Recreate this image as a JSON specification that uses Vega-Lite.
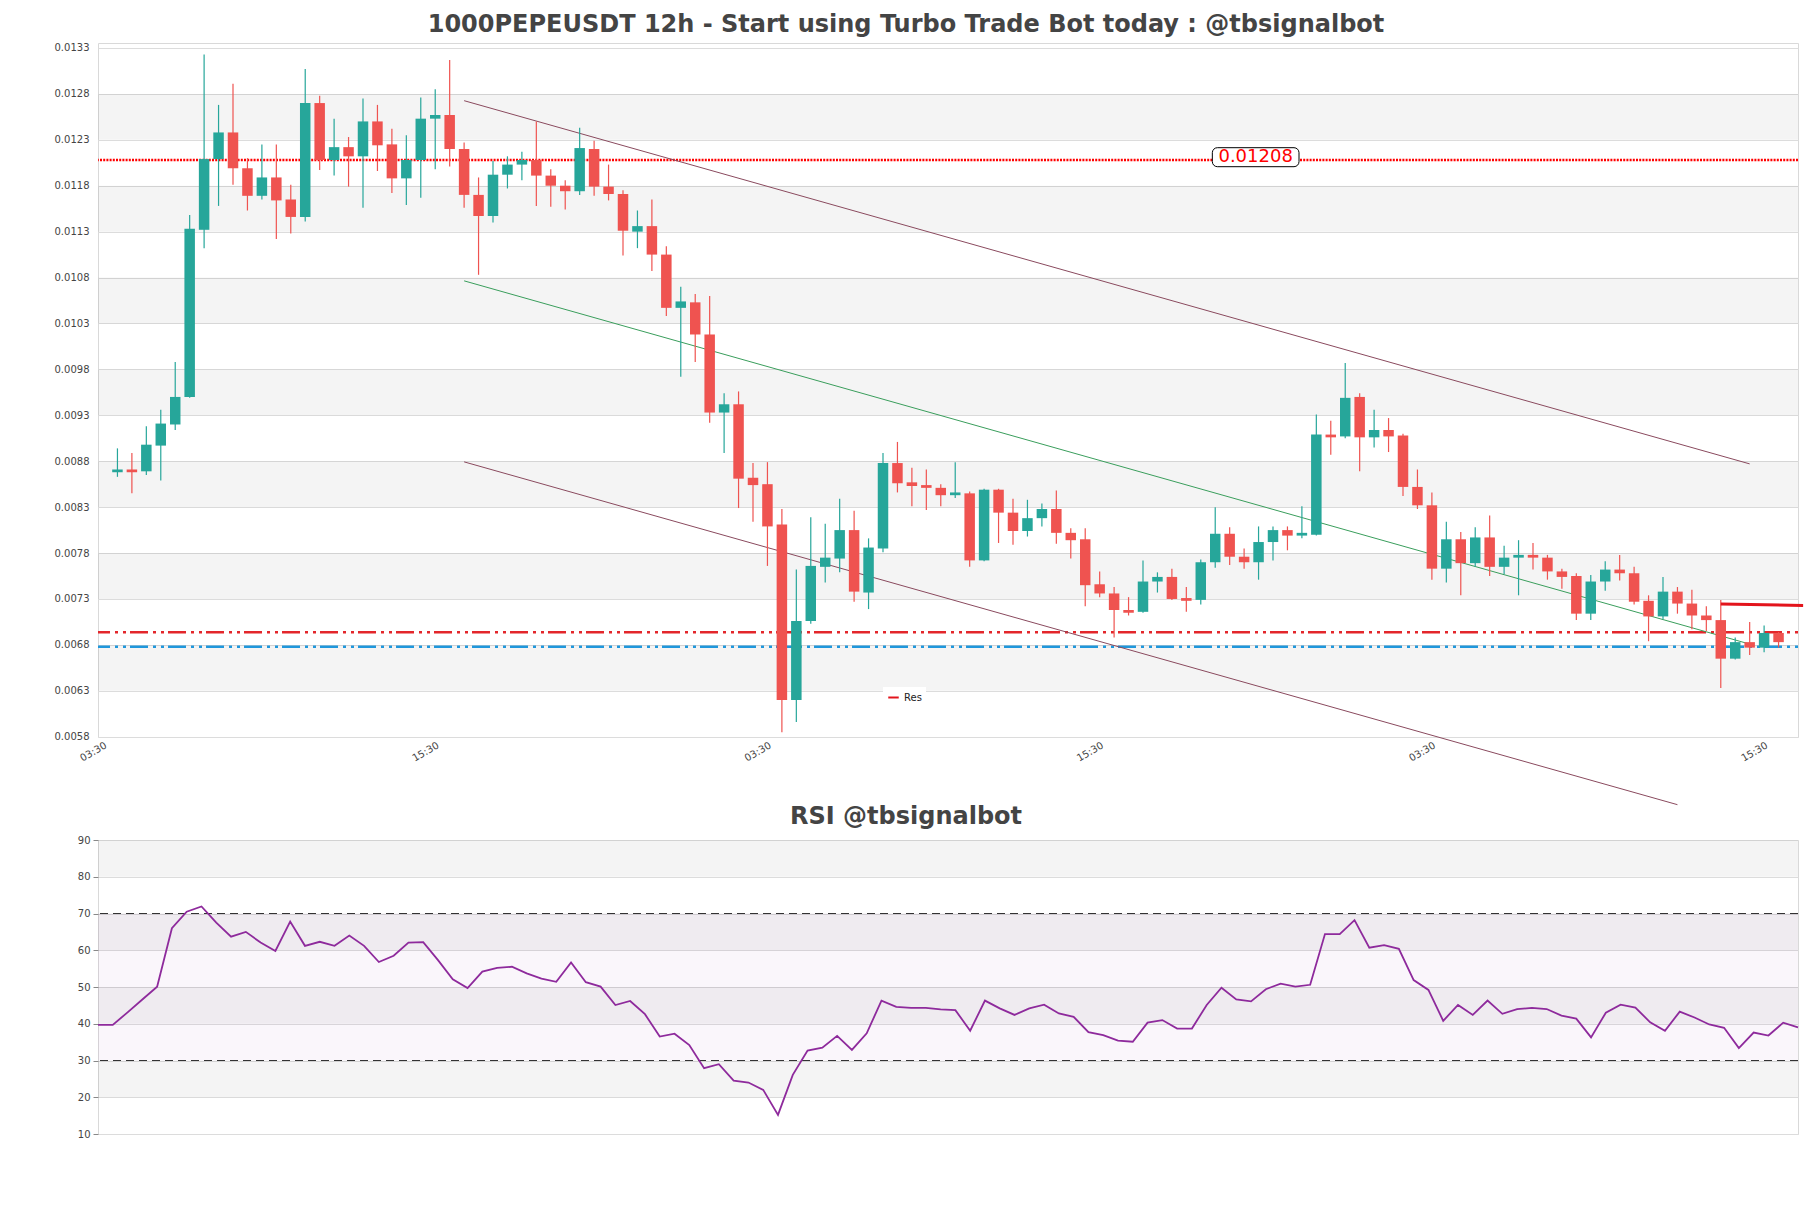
{
  "$schema": "https://vega.github.io/schema/vega-lite/v6.json",
  "autosize": {"type": "pad"},
  "padding": {"left": 53, "top": 12, "right": 4, "bottom": 4},
  "background": "white",
  "bounds": "flush",
  "spacing": 103,
  "config": {
    "font": "DejaVu Sans",
    "view": {"stroke": "#d9d9d9", "strokeWidth": 1},
    "axis": {"labelFont": "DejaVu Sans", "labelFontSize": 10, "labelColor": "#444444", "domain": false}
  },
  "datasets": {
    "candles": [
      {"i":0,"o":0.00868,"h":0.00894,"l":0.00863,"c":0.00871},
      {"i":1,"o":0.00871,"h":0.00889,"l":0.00845,"c":0.00868},
      {"i":2,"o":0.00869,"h":0.00918,"l":0.00865,"c":0.00898},
      {"i":3,"o":0.00897,"h":0.00936,"l":0.00859,"c":0.00921},
      {"i":4,"o":0.00920,"h":0.00988,"l":0.00914,"c":0.00950},
      {"i":5,"o":0.00950,"h":0.01148,"l":0.00949,"c":0.01133},
      {"i":6,"o":0.01132,"h":0.01323,"l":0.01112,"c":0.01209},
      {"i":7,"o":0.01209,"h":0.01268,"l":0.01158,"c":0.01238},
      {"i":8,"o":0.01238,"h":0.01291,"l":0.01181,"c":0.01199},
      {"i":9,"o":0.01199,"h":0.01210,"l":0.01153,"c":0.01169},
      {"i":10,"o":0.01169,"h":0.01225,"l":0.01165,"c":0.01189},
      {"i":11,"o":0.01189,"h":0.01225,"l":0.01122,"c":0.01164},
      {"i":12,"o":0.01165,"h":0.01181,"l":0.01128,"c":0.01146},
      {"i":13,"o":0.01146,"h":0.01307,"l":0.01141,"c":0.01270},
      {"i":14,"o":0.01270,"h":0.01278,"l":0.01197,"c":0.01208},
      {"i":15,"o":0.01208,"h":0.01253,"l":0.01191,"c":0.01222},
      {"i":16,"o":0.01222,"h":0.01233,"l":0.01179,"c":0.01212},
      {"i":17,"o":0.01212,"h":0.01275,"l":0.01156,"c":0.01250},
      {"i":18,"o":0.01250,"h":0.01268,"l":0.01196,"c":0.01224},
      {"i":19,"o":0.01225,"h":0.01242,"l":0.01172,"c":0.01188},
      {"i":20,"o":0.01188,"h":0.01235,"l":0.01159,"c":0.01208},
      {"i":21,"o":0.01208,"h":0.01276,"l":0.01167,"c":0.01253},
      {"i":22,"o":0.01253,"h":0.01285,"l":0.01198,"c":0.01257},
      {"i":23,"o":0.01257,"h":0.01317,"l":0.01201,"c":0.01220},
      {"i":24,"o":0.01220,"h":0.01227,"l":0.01156,"c":0.01170},
      {"i":25,"o":0.01170,"h":0.01189,"l":0.01083,"c":0.01147},
      {"i":26,"o":0.01147,"h":0.01207,"l":0.01140,"c":0.01192},
      {"i":27,"o":0.01192,"h":0.01212,"l":0.01177,"c":0.01203},
      {"i":28,"o":0.01203,"h":0.01217,"l":0.01186,"c":0.01208},
      {"i":29,"o":0.01208,"h":0.01250,"l":0.01158,"c":0.01191},
      {"i":30,"o":0.01191,"h":0.01198,"l":0.01157,"c":0.01180},
      {"i":31,"o":0.01180,"h":0.01186,"l":0.01154,"c":0.01174},
      {"i":32,"o":0.01174,"h":0.01243,"l":0.01170,"c":0.01221},
      {"i":33,"o":0.01220,"h":0.01229,"l":0.01169,"c":0.01179},
      {"i":34,"o":0.01179,"h":0.01203,"l":0.01164,"c":0.01171},
      {"i":35,"o":0.01171,"h":0.01175,"l":0.01104,"c":0.01131},
      {"i":36,"o":0.01130,"h":0.01153,"l":0.01112,"c":0.01136},
      {"i":37,"o":0.01136,"h":0.01165,"l":0.01087,"c":0.01105},
      {"i":38,"o":0.01105,"h":0.01114,"l":0.01038,"c":0.01047},
      {"i":39,"o":0.01047,"h":0.01070,"l":0.00972,"c":0.01054},
      {"i":40,"o":0.01053,"h":0.01062,"l":0.00988,"c":0.01018},
      {"i":41,"o":0.01018,"h":0.01060,"l":0.00922,"c":0.00933},
      {"i":42,"o":0.00933,"h":0.00954,"l":0.00889,"c":0.00942},
      {"i":43,"o":0.00942,"h":0.00956,"l":0.00829,"c":0.00861},
      {"i":44,"o":0.00862,"h":0.00878,"l":0.00814,"c":0.00854},
      {"i":45,"o":0.00855,"h":0.00879,"l":0.00766,"c":0.00809},
      {"i":46,"o":0.00811,"h":0.00828,"l":0.00585,"c":0.00620},
      {"i":47,"o":0.00620,"h":0.00762,"l":0.00596,"c":0.00706},
      {"i":48,"o":0.00706,"h":0.00819,"l":0.00703,"c":0.00766},
      {"i":49,"o":0.00765,"h":0.00812,"l":0.00748,"c":0.00775},
      {"i":50,"o":0.00774,"h":0.00839,"l":0.00759,"c":0.00805},
      {"i":51,"o":0.00805,"h":0.00826,"l":0.00727,"c":0.00738},
      {"i":52,"o":0.00737,"h":0.00796,"l":0.00719,"c":0.00786},
      {"i":53,"o":0.00785,"h":0.00889,"l":0.00781,"c":0.00878},
      {"i":54,"o":0.00878,"h":0.00901,"l":0.00846,"c":0.00856},
      {"i":55,"o":0.00857,"h":0.00873,"l":0.00831,"c":0.00853},
      {"i":56,"o":0.00854,"h":0.00871,"l":0.00827,"c":0.00851},
      {"i":57,"o":0.00851,"h":0.00855,"l":0.00831,"c":0.00843},
      {"i":58,"o":0.00843,"h":0.00879,"l":0.00840,"c":0.00846},
      {"i":59,"o":0.00845,"h":0.00847,"l":0.00765,"c":0.00772},
      {"i":60,"o":0.00772,"h":0.00850,"l":0.00771,"c":0.00849},
      {"i":61,"o":0.00849,"h":0.00850,"l":0.00791,"c":0.00824},
      {"i":62,"o":0.00824,"h":0.00839,"l":0.00789,"c":0.00804},
      {"i":63,"o":0.00804,"h":0.00838,"l":0.00798,"c":0.00818},
      {"i":64,"o":0.00818,"h":0.00834,"l":0.00809,"c":0.00828},
      {"i":65,"o":0.00828,"h":0.00848,"l":0.00790,"c":0.00802},
      {"i":66,"o":0.00802,"h":0.00807,"l":0.00774,"c":0.00794},
      {"i":67,"o":0.00795,"h":0.00807,"l":0.00722,"c":0.00745},
      {"i":68,"o":0.00746,"h":0.00760,"l":0.00732,"c":0.00736},
      {"i":69,"o":0.00736,"h":0.00743,"l":0.00688,"c":0.00718},
      {"i":70,"o":0.00718,"h":0.00732,"l":0.00712,"c":0.00715},
      {"i":71,"o":0.00716,"h":0.00772,"l":0.00715,"c":0.00749},
      {"i":72,"o":0.00749,"h":0.00759,"l":0.00737,"c":0.00754},
      {"i":73,"o":0.00754,"h":0.00763,"l":0.00729,"c":0.00730},
      {"i":74,"o":0.00731,"h":0.00743,"l":0.00716,"c":0.00728},
      {"i":75,"o":0.00729,"h":0.00773,"l":0.00724,"c":0.00770},
      {"i":76,"o":0.00770,"h":0.00830,"l":0.00764,"c":0.00801},
      {"i":77,"o":0.00801,"h":0.00808,"l":0.00767,"c":0.00776},
      {"i":78,"o":0.00776,"h":0.00785,"l":0.00763,"c":0.00770},
      {"i":79,"o":0.00770,"h":0.00809,"l":0.00751,"c":0.00792},
      {"i":80,"o":0.00792,"h":0.00809,"l":0.00772,"c":0.00805},
      {"i":81,"o":0.00805,"h":0.00809,"l":0.00783,"c":0.00799},
      {"i":82,"o":0.00799,"h":0.00831,"l":0.00796,"c":0.00802},
      {"i":83,"o":0.00800,"h":0.00931,"l":0.00799,"c":0.00909},
      {"i":84,"o":0.00909,"h":0.00924,"l":0.00887,"c":0.00906},
      {"i":85,"o":0.00907,"h":0.00987,"l":0.00905,"c":0.00949},
      {"i":86,"o":0.00950,"h":0.00954,"l":0.00869,"c":0.00906},
      {"i":87,"o":0.00906,"h":0.00936,"l":0.00895,"c":0.00914},
      {"i":88,"o":0.00914,"h":0.00927,"l":0.00890,"c":0.00907},
      {"i":89,"o":0.00908,"h":0.00910,"l":0.00842,"c":0.00852},
      {"i":90,"o":0.00852,"h":0.00871,"l":0.00828,"c":0.00832},
      {"i":91,"o":0.00832,"h":0.00846,"l":0.00751,"c":0.00763},
      {"i":92,"o":0.00763,"h":0.00814,"l":0.00748,"c":0.00795},
      {"i":93,"o":0.00795,"h":0.00803,"l":0.00734,"c":0.00769},
      {"i":94,"o":0.00769,"h":0.00808,"l":0.00765,"c":0.00797},
      {"i":95,"o":0.00797,"h":0.00821,"l":0.00755,"c":0.00765},
      {"i":96,"o":0.00765,"h":0.00788,"l":0.00757,"c":0.00775},
      {"i":97,"o":0.00775,"h":0.00794,"l":0.00734,"c":0.00778},
      {"i":98,"o":0.00778,"h":0.00791,"l":0.00762,"c":0.00775},
      {"i":99,"o":0.00775,"h":0.00778,"l":0.00751,"c":0.00760},
      {"i":100,"o":0.00760,"h":0.00763,"l":0.00741,"c":0.00754},
      {"i":101,"o":0.00755,"h":0.00758,"l":0.00707,"c":0.00714},
      {"i":102,"o":0.00714,"h":0.00756,"l":0.00707,"c":0.00749},
      {"i":103,"o":0.00749,"h":0.00771,"l":0.00739,"c":0.00762},
      {"i":104,"o":0.00762,"h":0.00778,"l":0.00750,"c":0.00758},
      {"i":105,"o":0.00758,"h":0.00765,"l":0.00724,"c":0.00727},
      {"i":106,"o":0.00728,"h":0.00734,"l":0.00684,"c":0.00711},
      {"i":107,"o":0.00711,"h":0.00754,"l":0.00708,"c":0.00738},
      {"i":108,"o":0.00738,"h":0.00743,"l":0.00714,"c":0.00725},
      {"i":109,"o":0.00725,"h":0.00740,"l":0.00697,"c":0.00712},
      {"i":110,"o":0.00712,"h":0.00722,"l":0.00695,"c":0.00707},
      {"i":111,"o":0.00707,"h":0.00729,"l":0.00633,"c":0.00665},
      {"i":112,"o":0.00665,"h":0.00688,"l":0.00664,"c":0.00683},
      {"i":113,"o":0.00683,"h":0.00705,"l":0.00669,"c":0.00677},
      {"i":114,"o":0.00677,"h":0.00701,"l":0.00672,"c":0.00693},
      {"i":115,"o":0.00693,"h":0.00694,"l":0.00677,"c":0.00683}
    ],
    "rsi": [
      {"j":0,"v":39.7},{"j":1,"v":39.7},{"j":2,"v":43.1},{"j":3,"v":46.6},{"j":4,"v":50.1},
      {"j":5,"v":66.0},{"j":6,"v":70.5},{"j":7,"v":71.9},{"j":8,"v":67.5},{"j":9,"v":63.7},
      {"j":10,"v":65.0},{"j":11,"v":62.1},{"j":12,"v":59.8},{"j":13,"v":67.8},{"j":14,"v":61.2},
      {"j":15,"v":62.3},{"j":16,"v":61.2},{"j":17,"v":64.0},{"j":18,"v":61.2},{"j":19,"v":56.8},
      {"j":20,"v":58.5},{"j":21,"v":62.1},{"j":22,"v":62.2},{"j":23,"v":57.3},{"j":24,"v":52.1},
      {"j":25,"v":49.7},{"j":26,"v":54.2},{"j":27,"v":55.2},{"j":28,"v":55.5},{"j":29,"v":53.7},
      {"j":30,"v":52.3},{"j":31,"v":51.4},{"j":32,"v":56.7},{"j":33,"v":51.3},{"j":34,"v":50.1},
      {"j":35,"v":45.1},{"j":36,"v":46.2},{"j":37,"v":42.6},{"j":38,"v":36.5},{"j":39,"v":37.3},
      {"j":40,"v":34.2},{"j":41,"v":27.9},{"j":42,"v":29.0},{"j":43,"v":24.5},{"j":44,"v":24.0},
      {"j":45,"v":22.0},{"j":46,"v":15.2},{"j":47,"v":26.1},{"j":48,"v":32.7},{"j":49,"v":33.5},
      {"j":50,"v":36.7},{"j":51,"v":32.9},{"j":52,"v":37.4},{"j":53,"v":46.3},{"j":54,"v":44.6},
      {"j":55,"v":44.3},{"j":56,"v":44.3},{"j":57,"v":43.9},{"j":58,"v":43.7},{"j":59,"v":38.1},
      {"j":60,"v":46.3},{"j":61,"v":44.2},{"j":62,"v":42.4},{"j":63,"v":44.2},{"j":64,"v":45.2},
      {"j":65,"v":42.8},{"j":66,"v":41.9},{"j":67,"v":37.7},{"j":68,"v":36.9},{"j":69,"v":35.4},
      {"j":70,"v":35.1},{"j":71,"v":40.3},{"j":72,"v":41.0},{"j":73,"v":38.7},{"j":74,"v":38.7},
      {"j":75,"v":45.1},{"j":76,"v":49.8},{"j":77,"v":46.6},{"j":78,"v":46.1},{"j":79,"v":49.4},
      {"j":80,"v":50.9},{"j":81,"v":50.1},{"j":82,"v":50.6},{"j":83,"v":64.4},{"j":84,"v":64.4},
      {"j":85,"v":68.2},{"j":86,"v":60.7},{"j":87,"v":61.4},{"j":88,"v":60.4},{"j":89,"v":51.9},
      {"j":90,"v":49.2},{"j":91,"v":40.8},{"j":92,"v":45.1},{"j":93,"v":42.4},{"j":94,"v":46.3},
      {"j":95,"v":42.7},{"j":96,"v":44.0},{"j":97,"v":44.3},{"j":98,"v":44.0},{"j":99,"v":42.2},
      {"j":100,"v":41.4},{"j":101,"v":36.3},{"j":102,"v":43.0},{"j":103,"v":45.2},{"j":104,"v":44.4},
      {"j":105,"v":40.4},{"j":106,"v":38.1},{"j":107,"v":43.3},{"j":108,"v":41.7},{"j":109,"v":39.8},
      {"j":110,"v":38.9},{"j":111,"v":33.4},{"j":112,"v":37.6},{"j":113,"v":36.8},{"j":114,"v":40.3},
      {"j":115,"v":39.0}
    ],
    "bandsMain": [
      {"lo":0.0063,"hi":0.0068},{"lo":0.0073,"hi":0.0078},{"lo":0.0083,"hi":0.0088},
      {"lo":0.0093,"hi":0.0098},{"lo":0.0103,"hi":0.0108},{"lo":0.0113,"hi":0.0118},
      {"lo":0.0123,"hi":0.0128}
    ],
    "bandsRsi": [{"lo":20,"hi":30},{"lo":40,"hi":50},{"lo":60,"hi":70},{"lo":80,"hi":90}],
    "trend": [
      {"kind":"upper","x1":24,"y1":0.012726,"x2":113,"y2":0.008771},
      {"kind":"mid","x1":24,"y1":0.010764,"x2":113,"y2":0.006809},
      {"kind":"lower","x1":24,"y1":0.008793,"x2":108,"y2":0.005060}
    ]
  },
  "vconcat": [
    {
      "width": 1700,
      "height": 694,
      "title": {"text": "1000PEPEUSDT 12h - Start using Turbo Trade Bot today : @tbsignalbot", "font": "DejaVu Sans", "fontSize": 24, "fontWeight": "bold", "color": "#444444", "anchor": "middle", "frame": "group", "dx": -42, "offset": 6},
      "layer": [
        {
          "data": {"name": "bandsMain"},
          "mark": {"type": "rect", "color": "#000000", "opacity": 0.045},
          "encoding": {
            "y": {"field": "lo", "type": "quantitative",
                  "scale": {"domain": [0.005797, 0.013354], "nice": false, "zero": false},
                  "axis": {"values": [0.0058,0.0063,0.0068,0.0073,0.0078,0.0083,0.0088,0.0093,0.0098,0.0103,0.0108,0.0113,0.0118,0.0123,0.0128,0.0133],
                           "format": ".4f", "grid": true, "gridColor": "#dcdcdc", "ticks": false, "labelPadding": 9, "labelOverlap": false, "title": null}},
            "y2": {"field": "hi"}
          }
        },
        {
          "data": {"values": [{"y": 0.01208}]},
          "mark": {"type": "rule", "color": "#ff0000", "strokeWidth": 2.5, "strokeDash": [2, 1.2]},
          "encoding": {"y": {"field": "y", "type": "quantitative"}}
        },
        {
          "data": {"values": [{"y": 0.006937}]},
          "mark": {"type": "rule", "color": "#e3262b", "strokeWidth": 2.5, "strokeDash": [3, 5, 3, 5, 18, 4]},
          "encoding": {"y": {"field": "y", "type": "quantitative"}}
        },
        {
          "data": {"values": [{"y": 0.006781}]},
          "mark": {"type": "rule", "color": "#1f97dc", "strokeWidth": 2.5, "strokeDash": [3, 5, 3, 5, 18, 4]},
          "encoding": {"y": {"field": "y", "type": "quantitative"}}
        },
        {
          "data": {"name": "trend"},
          "mark": {"type": "rule", "strokeWidth": 1, "clip": false},
          "encoding": {
            "x": {"field": "x1", "type": "quantitative"},
            "x2": {"field": "x2"},
            "y": {"field": "y1", "type": "quantitative"},
            "y2": {"field": "y2"},
            "color": {"condition": {"test": "datum.kind == 'mid'", "value": "#3a9e5c"}, "value": "#8a4a5e"}
          }
        },
        {
          "data": {"name": "candles"},
          "mark": {"type": "rule", "strokeWidth": 1.2},
          "encoding": {
            "x": {"field": "i", "type": "quantitative",
                  "scale": {"domain": [-1, 116], "nice": false, "zero": false},
                  "axis": {"values": [-1, 22, 45, 68, 91, 114],
                           "labelExpr": "(round((datum.value + 1) / 23) % 2 == 0) ? '03:30' : '15:30'",
                           "labelAngle": -30, "labelAlign": "right", "labelBaseline": "top",
                           "ticks": false, "grid": false, "labelPadding": 3, "title": null}},
            "y": {"field": "l", "type": "quantitative"},
            "y2": {"field": "h"},
            "color": {"condition": {"test": "datum.c >= datum.o", "value": "#26a69a"}, "value": "#ef5350"}
          }
        },
        {
          "data": {"name": "candles"},
          "mark": {"type": "bar", "size": 10.5, "orient": "vertical"},
          "encoding": {
            "x": {"field": "i", "type": "quantitative"},
            "y": {"field": "o", "type": "quantitative"},
            "y2": {"field": "c"},
            "color": {"condition": {"test": "datum.c >= datum.o", "value": "#26a69a"}, "value": "#ef5350"}
          }
        },
        {
          "data": {"values": [{"x1": 75.8, "x2": 81.8, "y1": 0.012007, "y2": 0.012214}]},
          "mark": {"type": "rect", "fill": "white", "stroke": "black", "strokeWidth": 1, "cornerRadius": 5},
          "encoding": {
            "x": {"field": "x1", "type": "quantitative"},
            "x2": {"field": "x2"},
            "y": {"field": "y1", "type": "quantitative"},
            "y2": {"field": "y2"}
          }
        },
        {
          "data": {"values": [{"label": "0.01208", "x": 78.8, "y": 0.01211}]},
          "mark": {"type": "text", "color": "#ff0000", "fontSize": 18, "font": "DejaVu Sans", "align": "center", "baseline": "middle"},
          "encoding": {
            "x": {"field": "x", "type": "quantitative"},
            "y": {"field": "y", "type": "quantitative"},
            "text": {"field": "label"}
          }
        },
        {
          "data": {"values": [{"name": "Res", "x1": 111, "x2": 116.7, "y1": 0.007245, "y2": 0.00723}]},
          "mark": {"type": "rule", "strokeWidth": 3, "clip": false},
          "encoding": {
            "x": {"field": "x1", "type": "quantitative"},
            "x2": {"field": "x2"},
            "y": {"field": "y1", "type": "quantitative"},
            "y2": {"field": "y2"},
            "stroke": {"field": "name", "type": "nominal",
                       "scale": {"domain": ["Res"], "range": ["#e3141c"]},
                       "legend": {"title": null, "orient": "none", "legendX": 785, "legendY": 644,
                                  "fillColor": "white", "padding": 4, "symbolType": "stroke",
                                  "symbolStrokeWidth": 2, "symbolSize": 110, "labelFontSize": 10,
                                  "labelFont": "DejaVu Sans", "labelColor": "#222222"}}
          }
        }
      ]
    },
    {
      "width": 1700,
      "height": 294,
      "title": {"text": "RSI @tbsignalbot", "font": "DejaVu Sans", "fontSize": 24, "fontWeight": "bold", "color": "#444444", "anchor": "middle", "frame": "group", "dx": -42, "offset": 6},
      "layer": [
        {
          "data": {"name": "bandsRsi"},
          "mark": {"type": "rect", "color": "#000000", "opacity": 0.045},
          "encoding": {
            "y": {"field": "lo", "type": "quantitative",
                  "scale": {"domain": [10, 90], "nice": false, "zero": false},
                  "axis": {"values": [10,20,30,40,50,60,70,80,90], "labelOverlap": false, "labelFlush": false,
                           "grid": true, "gridColor": "#dcdcdc",
                           "ticks": true, "tickSize": 5, "tickColor": "#888888", "labelPadding": 3, "title": null}},
            "y2": {"field": "hi"}
          }
        },
        {
          "data": {"values": [{"lo": 30, "hi": 70}]},
          "mark": {"type": "rect", "color": "#9b4fb0", "opacity": 0.05},
          "encoding": {
            "y": {"field": "lo", "type": "quantitative",
                  "axis": {"values": [10,20,30,40,50,60,70,80,90], "labelOverlap": false, "labelFlush": false,
                           "grid": true, "gridColor": "#dcdcdc",
                           "ticks": true, "tickSize": 5, "tickColor": "#888888", "labelPadding": 3, "title": null}},
            "y2": {"field": "hi"}
          }
        },
        {
          "data": {"values": [{"v": 30}, {"v": 70}]},
          "mark": {"type": "rule", "color": "#333333", "strokeWidth": 1.2, "strokeDash": [8, 5]},
          "encoding": {"y": {"field": "v", "type": "quantitative",
                  "axis": {"values": [10,20,30,40,50,60,70,80,90], "labelOverlap": false, "labelFlush": false,
                           "grid": true, "gridColor": "#dcdcdc",
                           "ticks": true, "tickSize": 5, "tickColor": "#888888", "labelPadding": 3, "title": null}}}
        },
        {
          "data": {"name": "rsi"},
          "mark": {"type": "line", "color": "#8e2a9c", "strokeWidth": 1.8},
          "encoding": {
            "x": {"field": "j", "type": "quantitative", "scale": {"domain": [0, 115], "nice": false, "zero": false}, "axis": null},
            "y": {"field": "v", "type": "quantitative",
                  "axis": {"values": [10,20,30,40,50,60,70,80,90], "labelOverlap": false, "labelFlush": false,
                           "grid": true, "gridColor": "#dcdcdc",
                           "ticks": true, "tickSize": 5, "tickColor": "#888888", "labelPadding": 3, "title": null}}
          }
        }
      ]
    }
  ]
}
